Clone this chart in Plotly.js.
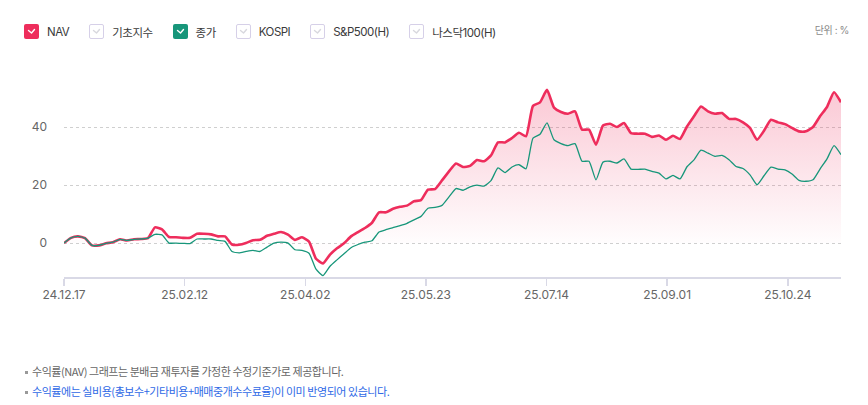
<!DOCTYPE html>
<html>
<head>
<meta charset="utf-8">
<script src="https://cdn.plot.ly/plotly-3.0.1.min.js"></script>
<style>
	body { margin: 0; background: #fff; font-family: Inter, "Noto Sans CJK KR", sans-serif; }
	#wrap { position: relative; width: 868px; height: 405px; overflow: hidden; }
	#chart { position: absolute; left: 0; top: 0; width: 868px; height: 405px; }
	#legend { position: absolute; left: 24px; top: 24px; display: flex; align-items: center; font-size: 11.5px; letter-spacing: -0.5px; color: #3a3a3a; }
	.item { display: flex; align-items: center; margin-right: 20px; height: 15px; }
	.box { width: 15px; height: 15px; box-sizing: border-box; border-radius: 2px; margin-right: 8px; display: flex; align-items: center; justify-content: center; }
	.box.off { border: 1px solid #d6d0e8; background: #fff; }
	#unit { position: absolute; right: 19px; top: 22px; font-size: 10px; letter-spacing: -0.4px; color: #8a8a8a; }
	.note { position: absolute; left: 25px; font-size: 11px; letter-spacing: -0.45px; color: #666; font-family: "Noto Sans CJK KR", sans-serif; }
	.note .dot { display: inline-block; width: 3px; height: 3px; background: #999; margin-right: 4px; vertical-align: middle; position: relative; top: -1px; }
	.note.blue { color: #2f6ae6; }
</style>
</head>
<body>
<div id="wrap">
	<div id="chart"></div>
	<div id="legend"></div>
	<div id="unit">단위 : %</div>
	<div class="note" style="top:363px;"><span class="dot"></span>수익률(NAV) 그래프는 분배금 재투자를 가정한 수정기준가로 제공합니다.</div>
	<div class="note blue" style="top:383px;"><span class="dot"></span>수익률에는 실비용(총보수+기타비용+매매중개수수료율)이 이미 반영되어 있습니다.</div>
</div>
<script>
document.addEventListener('DOMContentLoaded', function() {

	// return (%) since 24.12.17, read roughly every 2 trading days
	const navReturn = [
		0, 1.8, 2.3, 1.7, -0.8, -0.8, -0.1, 0.3, 1.3, 0.9,
		1.3, 1.4, 1.7, 5.4, 4.7, 2.1, 2.0, 1.8, 1.8, 3.2,
		3.2, 3.0, 2.3, 2.3, -0.5, -0.6, 0, 1.0, 1.1, 2.5,
		3.2, 3.8, 2.9, 1.1, 2.0, 0.5, -5.4, -7.0, -4.0, -1.8,
		-0.1, 2.3, 3.8, 5.2, 7.0, 10.6, 10.6, 11.8, 12.5, 12.9,
		14.4, 14.8, 18.4, 18.6, 21.6, 24.7, 27.4, 26.2, 26.6, 28.6,
		28.2, 30.2, 34.7, 34.7, 36.2, 38.0, 36.8, 47.3, 48.5, 52.8,
		46.7, 45.2, 44.6, 45.4, 39.1, 39.1, 33.9, 40.5, 41.1, 40.0,
		41.4, 37.9, 37.7, 37.7, 36.6, 37.1, 35.6, 37.0, 35.9, 40.2,
		43.7, 47.1, 45.4, 44.6, 44.8, 42.8, 42.8, 41.6, 39.7, 35.6,
		38.7, 42.5, 41.6, 41.0, 39.7, 38.5, 38.5, 40.0, 43.7, 46.9,
		52.0, 48.5
	];
	const closeReturn = [
		0, 1.8, 2.3, 1.7, -0.8, -0.8, -0.1, 0.3, 1.3, 0.9,
		1.3, 1.4, 1.7, 3.0, 2.8, 0, 0, -0.1, -0.2, 1.4,
		1.4, 1.4, 0.9, 0.6, -2.9, -3.4, -2.9, -2.5, -2.9, -1.4,
		0, 0.3, 0, -2.3, -2.5, -3.5, -9.0, -11.2, -8.0, -5.8,
		-3.7, -1.6, -0.5, 0.3, 0.8, 3.8, 4.6, 5.3, 6.0, 6.8,
		8.0, 9.2, 12.0, 12.3, 13.0, 15.9, 18.8, 18.2, 19.4, 20.0,
		19.6, 21.5, 25.9, 24.3, 26.2, 27.0, 25.6, 36.2, 37.5, 41.4,
		35.6, 34.3, 33.6, 34.3, 28.2, 28.2, 21.8, 27.9, 28.2, 27.6,
		29.0, 25.5, 25.4, 25.5, 24.7, 24.1, 22.1, 23.3, 22.1, 26.3,
		28.7, 32.0, 31.0, 29.9, 30.2, 28.7, 26.4, 25.7, 23.5, 20.1,
		23.2, 26.2, 25.5, 25.2, 23.8, 21.6, 21.3, 21.8, 25.5, 29.0,
		33.6, 30.5
	];
	const lastDay = 219;
	const tickDays = [0, 34, 68, 102, 136, 170, 204];
	const tickLabels = ['24.12.17', '25.02.12', '25.04.02', '25.05.23', '25.07.14', '25.09.01', '25.10.24'];

	const legendNames = ['NAV', '기초지수', '종가', 'KOSPI', 'S&P500(H)', '나스닥100(H)'];
	const legendOn = [true, false, true, false, false, false];

	const navColor = '#ee2d5c';
	const closeColor = '#17967a';

	const days = navReturn.map(function(v, i) { return i * lastDay / (navReturn.length - 1); });

	// legend with checkboxes
	const legend = document.getElementById('legend');
	legendNames.forEach(function(name, i) {
		const item = document.createElement('div');
		item.className = 'item';
		const box = document.createElement('span');
		let checkColor = '#d8d8de';
		if (legendOn[i]) {
			box.className = 'box';
			box.style.background = name === 'NAV' ? navColor : closeColor;
			checkColor = '#fff';
		} else {
			box.className = 'box off';
		}
		box.innerHTML = '<svg width="9" height="7" viewBox="0 0 9 7"><polyline points="1.5,2.5 4.5,5 7.5,1.5" fill="none" stroke="' + checkColor + '" stroke-width="1.4" stroke-linecap="round" stroke-linejoin="round"/></svg>';
		const label = document.createElement('span');
		label.textContent = name;
		item.appendChild(box);
		item.appendChild(label);
		legend.appendChild(item);
	});

	const navTrace = {
		x: days,
		y: navReturn,
		type: 'scatter',
		mode: 'lines',
		name: 'NAV',
		line: { color: navColor, width: 2.6, shape: 'spline', smoothing: 0.5 },
		fill: 'tozeroy',
		fillgradient: {
			type: 'vertical',
			start: 0,
			stop: 55,
			colorscale: [[0, 'rgba(238,45,92,0.01)'], [1, 'rgba(238,45,92,0.27)']]
		},
		hoverinfo: 'skip'
	};

	const closeTrace = {
		x: days,
		y: closeReturn,
		type: 'scatter',
		mode: 'lines',
		name: '종가',
		line: { color: closeColor, width: 1.3, shape: 'spline', smoothing: 0.5 },
		hoverinfo: 'skip'
	};

	const layout = {
		width: 868,
		height: 405,
		margin: { l: 64, r: 27, t: 69, b: 128 },
		paper_bgcolor: '#fff',
		plot_bgcolor: '#fff',
		showlegend: false,
		font: { family: 'Inter, "Noto Sans CJK KR", sans-serif', size: 12, color: '#666' },
		xaxis: {
			range: [0, lastDay],
			tickvals: tickDays,
			ticktext: tickLabels,
			showgrid: false,
			zeroline: false,
			showline: true,
			linecolor: '#d9d9e6',
			linewidth: 1.5,
			ticks: 'outside',
			ticklen: 7,
			tickwidth: 1.5,
			tickcolor: '#d9d9e6',
			tickfont: { size: 12, color: '#666' },
			ticklabelstandoff: -1
		},
		yaxis: {
			range: [-11.7, 60],
			tickvals: [0, 20, 40],
			showgrid: true,
			gridcolor: '#cfcfcf',
			griddash: '3px,3px',
			gridwidth: 1,
			zeroline: false,
			showline: false,
			tickfont: { size: 12, color: '#666' },
			ticklabelstandoff: 16
		}
	};

	Plotly.newPlot('chart', [navTrace, closeTrace], layout, { staticPlot: true });
});
</script>
</body>
</html>
